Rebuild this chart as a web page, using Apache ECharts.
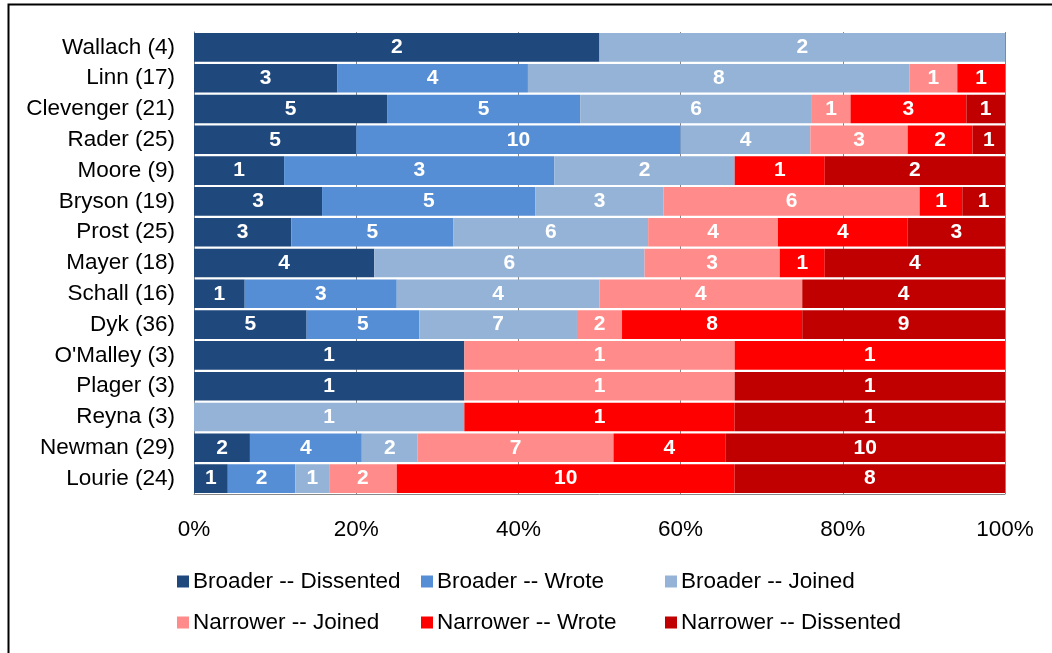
<!DOCTYPE html>
<html>
<head>
<meta charset="utf-8">
<script src="https://cdn.jsdelivr.net/npm/echarts@6/dist/echarts.min.js"></script>
<style>
  html, body { margin: 0; padding: 0; background: #fff; }
  #chart { width: 1052px; height: 653px; }
</style>
</head>
<body>
<div id="chart"></div>
<script>
const judges = ['Wallach (4)', 'Linn (17)', 'Clevenger (21)', 'Rader (25)', 'Moore (9)', 'Bryson (19)', 'Prost (25)',
  'Mayer (18)', 'Schall (16)', 'Dyk (36)', "O'Malley (3)", 'Plager (3)', 'Reyna (3)', 'Newman (29)', 'Lourie (24)'];

const broaderDissented = [2, 3, 5, 5, 1, 3, 3, 4, 1, 5, 1, 1, 0, 2, 1];
const broaderWrote = [0, 4, 5, 10, 3, 5, 5, 0, 3, 5, 0, 0, 0, 4, 2];
const broaderJoined = [2, 8, 6, 4, 2, 3, 6, 6, 4, 7, 0, 0, 1, 2, 1];
const narrowerJoined = [0, 1, 1, 3, 0, 6, 4, 3, 4, 2, 1, 1, 0, 7, 2];
const narrowerWrote = [0, 1, 3, 2, 1, 1, 4, 1, 0, 8, 1, 0, 1, 4, 10];
const narrowerDissented = [0, 0, 1, 1, 2, 1, 3, 4, 4, 9, 0, 1, 1, 10, 8];

const seriesDefs = [
  ['Broader -- Dissented', broaderDissented, '#1F497D'],
  ['Broader -- Wrote', broaderWrote, '#558ED5'],
  ['Broader -- Joined', broaderJoined, '#95B3D7'],
  ['Narrower -- Joined', narrowerJoined, '#FF8B8B'],
  ['Narrower -- Wrote', narrowerWrote, '#FF0000'],
  ['Narrower -- Dissented', narrowerDissented, '#C00000'],
];

// each bar is shown as a share of the judge's total opinions
const totals = judges.map((_, i) => seriesDefs.reduce((s, d) => s + d[1][i], 0));

const chart = echarts.init(document.getElementById('chart'));
const font = 'Liberation Sans, Arial, sans-serif';

const legendCol = (left, names) => ({
  left, top: 570, orient: 'vertical', itemGap: 18, padding: 0,
  itemWidth: 12, itemHeight: 12, icon: 'rect',
  textStyle: { fontFamily: font, fontSize: 22.5, color: '#000', padding: [0, 0, 0, -1] },
  data: names,
});

chart.setOption({
  animation: false,
  textStyle: { fontFamily: font },
  graphic: [{
    type: 'rect', left: 6, top: 2,
    shape: { width: 1100, height: 700 },
    style: { fill: 'none', stroke: '#000', lineWidth: 2 },
  }],
  grid: { left: 194, right: 47, top: 32, bottom: 159 },
  legend: [
    legendCol(177, ['Broader -- Dissented', 'Narrower -- Joined']),
    legendCol(421, ['Broader -- Wrote', 'Narrower -- Wrote']),
    legendCol(665, ['Broader -- Joined', 'Narrower -- Dissented']),
  ],
  xAxis: {
    type: 'value', min: 0, max: 100, interval: 20,
    axisLine: { show: true, lineStyle: { color: '#888' } },
    axisTick: { show: false },
    splitLine: { show: true, lineStyle: { color: '#888' } },
    axisLabel: { formatter: '{value}%', fontSize: 22.5, color: '#000', margin: 24, fontFamily: font },
  },
  yAxis: {
    type: 'category', inverse: true, data: judges,
    axisLine: { show: true, lineStyle: { color: '#888' } },
    axisTick: { show: false },
    axisLabel: { fontSize: 22.5, color: '#000', margin: 19, fontFamily: font },
  },
  series: seriesDefs.map(([name, vals, color]) => ({
    name, type: 'bar', stack: 'all',
    barCategoryGap: '7%',
    itemStyle: { color },
    data: vals.map((v, i) => ({ value: v / totals[i] * 100, count: v })),
    label: {
      show: true, position: 'inside', color: '#fff', fontWeight: 'bold', fontSize: 21, fontFamily: font,
      formatter: (p) => (p.data.count ? String(p.data.count) : ''),
    },
  })),
});
</script>
</body>
</html>
